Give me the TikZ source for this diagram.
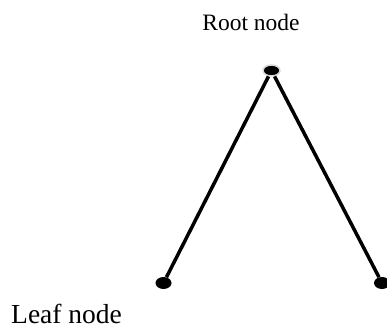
\documentclass[tikz,border=0pt]{standalone}
\usepackage{fontspec}
\setmainfont{Liberation Serif}
\usetikzlibrary{shapes.geometric}

\tikzset{
  rootdot/.style={ellipse, fill=black, draw=black!15, line width=1.5pt, inner sep=0pt, minimum width=17pt, minimum height=11pt},
  leafdot/.style={ellipse, fill=black, inner sep=0pt, minimum width=16pt, minimum height=12pt},
  branch/.style={line width=3.5pt}
}

\begin{document}
\begin{tikzpicture}[x=1pt,y=1pt]

% 画布范围
\useasboundingbox (0,0) rectangle (387,327);

% 绘制节点
\node[rootdot] (root) at (271.5,256.5) {};     % 根节点
\node[leafdot] (leafL) at (163.5,44) {};       % 左叶节点
\node[leafdot] (leafR) at (382,44) {};         % 右叶节点

% 绘制连线
\draw[branch] (root) -- (leafL);
\draw[branch] (root) -- (leafR);

% 添加文字标注
\node[anchor=base, inner sep=0pt] (rootlabel) at (251,296) {\fontsize{23.5}{25}\selectfont Root node};
\node[anchor=base west, inner sep=0pt] (leaflabel) at (11,4) {\fontsize{27.5}{29}\selectfont Leaf node};

\end{tikzpicture}
\end{document}
